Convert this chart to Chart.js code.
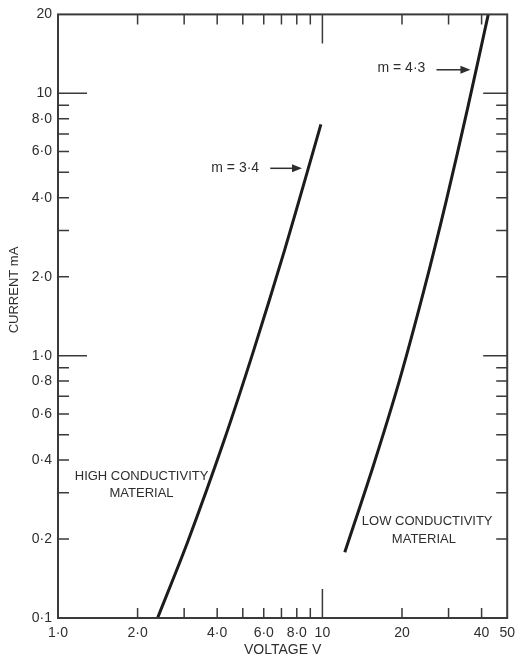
<!DOCTYPE html>
<html>
<head>
<meta charset="utf-8">
<script src="https://cdn.jsdelivr.net/npm/chart.js@4/dist/chart.umd.min.js"></script>
<style>
  html,body{margin:0;padding:0;background:#fff;}
  #wrap{width:522px;height:659px;position:relative;}
</style>
</head>
<body>
<div id="wrap"><canvas id="c"></canvas></div>
<script>
// ── data (voltage V, current mA) ──
const highV = [2.38, 3.11, 4.25, 5.50, 7.19, 8.80, 9.87];
const highI = [0.10, 0.198, 0.476, 1.05, 2.52, 5.09, 7.62];
const lowV  = [12.15, 15.56, 19.58, 24.23, 29.43, 35.48, 42.4];
const lowI  = [0.178, 0.379, 0.807, 1.78, 3.91, 8.84, 20.0];

// axis ticks
const xTicks  = [1,2,3,4,5,6,7,8,9,10,20,30,40,50];
const xLabels = {1:'1·0',2:'2·0',4:'4·0',6:'6·0',8:'8·0',10:'10',20:'20',40:'40',50:'50'};
const yTicks  = [0.1,0.2,0.3,0.4,0.5,0.6,0.7,0.8,0.9,1,2,3,4,5,6,7,8,9,10,20];
const yLabels = {0.1:'0·1',0.2:'0·2',0.4:'0·4',0.6:'0·6',0.8:'0·8',1:'1·0',2:'2·0',4:'4·0',6:'6·0',8:'8·0',10:'10',20:'20'};
const longTicksX = [10];
const longTicksY = [1,10];

// annotations (anchored in data units)
const notes = [
  {text:'m = 3·4',            v:4.68, i:5.18},
  {text:'m = 4·3',            v:19.9, i:12.5},
  {text:'HIGH CONDUCTIVITY',  v:2.07, i:0.347},
  {text:'MATERIAL',           v:2.07, i:0.299},
  {text:'LOW CONDUCTIVITY',   v:24.9, i:0.234},
  {text:'MATERIAL',           v:24.2, i:0.200}
];
const arrows = [
  {v0:6.35, v1:8.37, i:5.18},
  {v0:27.0, v1:36.3, i:12.3}
];

const INK='#2e2e2e', FONT='"Liberation Sans", Arial, sans-serif';

const decorPlugin = {
  id:'decor',
  afterDraw(chart){
    const ctx=chart.ctx, xs=chart.scales.x, ys=chart.scales.y, a=chart.chartArea;
    ctx.save();
    // frame
    ctx.strokeStyle='#3a3a3a'; ctx.lineWidth=2;
    ctx.strokeRect(a.left,a.top,a.right-a.left,a.bottom-a.top);
    // inward ticks
    ctx.lineWidth=1.5;
    xTicks.forEach(v=>{
      if(v===xTicks[0]||v===xTicks[xTicks.length-1]) return;
      const x=xs.getPixelForValue(v), L=longTicksX.includes(v)?29:10;
      ctx.beginPath();
      ctx.moveTo(x,a.bottom); ctx.lineTo(x,a.bottom-L);
      ctx.moveTo(x,a.top); ctx.lineTo(x,a.top+L);
      ctx.stroke();
    });
    yTicks.forEach(v=>{
      if(v===yTicks[0]||v===yTicks[yTicks.length-1]) return;
      const y=ys.getPixelForValue(v), L=longTicksY.includes(v)?29:11;
      ctx.beginPath();
      ctx.moveTo(a.left,y); ctx.lineTo(a.left+L,y);
      ctx.moveTo(a.right,y); ctx.lineTo(a.right-(longTicksY.includes(v)?24:11),y);
      ctx.stroke();
    });
    // notes
    ctx.fillStyle=INK; ctx.textAlign='center'; ctx.textBaseline='middle';
    notes.forEach(n=>{
      ctx.font=(n.text.startsWith('m')?'14px ':'13px ')+FONT;
      ctx.fillText(n.text, xs.getPixelForValue(n.v), ys.getPixelForValue(n.i));
    });
    // arrows
    ctx.strokeStyle=INK; ctx.lineWidth=1.5;
    arrows.forEach(r=>{
      const x0=xs.getPixelForValue(r.v0), x1=xs.getPixelForValue(r.v1), y=ys.getPixelForValue(r.i);
      ctx.beginPath(); ctx.moveTo(x0,y); ctx.lineTo(x1-6,y); ctx.stroke();
      ctx.beginPath(); ctx.moveTo(x1,y); ctx.lineTo(x1-10,y-4); ctx.lineTo(x1-10,y+4); ctx.closePath(); ctx.fill();
    });
    // y title
    ctx.save();
    ctx.translate(14, ys.getPixelForValue(1.78));
    ctx.rotate(-Math.PI/2);
    ctx.font='13px '+FONT;
    ctx.fillText('CURRENT mA',0,0);
    ctx.restore();
    ctx.restore();
  }
};

new Chart(document.getElementById('c'),{
  type:'line',
  data:{
    datasets:[
      {data:highV.map((v,k)=>({x:v,y:highI[k]})),borderColor:'#1c1c1c',borderWidth:3,pointRadius:0,tension:0.3,fill:false},
      {data:lowV.map((v,k)=>({x:v,y:lowI[k]})),borderColor:'#1c1c1c',borderWidth:3,pointRadius:0,tension:0.3,fill:false}
    ]
  },
  plugins:[decorPlugin],
  options:{
    responsive:true, maintainAspectRatio:false, animation:false,
    layout:{padding:{top:14,right:13,left:0,bottom:0}},
    plugins:{legend:{display:false},tooltip:{enabled:false}},
    scales:{
      x:{
        type:'logarithmic', min:1, max:50,
        afterBuildTicks:s=>{s.ticks=xTicks.map(v=>({value:v}));},
        afterFit:s=>{s.height=41;},
        grid:{display:false,drawTicks:false}, border:{display:false},
        ticks:{autoSkip:false,maxRotation:0,padding:7,color:INK,font:{family:FONT,size:14},
          callback:v=>xLabels[v]||''},
        title:{display:true,text:'VOLTAGE V',color:INK,font:{family:FONT,size:14},padding:{top:0,bottom:0}}
      },
      y:{
        type:'logarithmic', min:0.1, max:20,
        afterBuildTicks:s=>{s.ticks=yTicks.map(v=>({value:v}));},
        afterFit:s=>{s.width=58;},
        grid:{display:false,drawTicks:false}, border:{display:false},
        ticks:{autoSkip:false,padding:6,color:INK,font:{family:FONT,size:14},
          callback:v=>yLabels[v]||''}
      }
    }
  }
});
</script>
</body>
</html>
